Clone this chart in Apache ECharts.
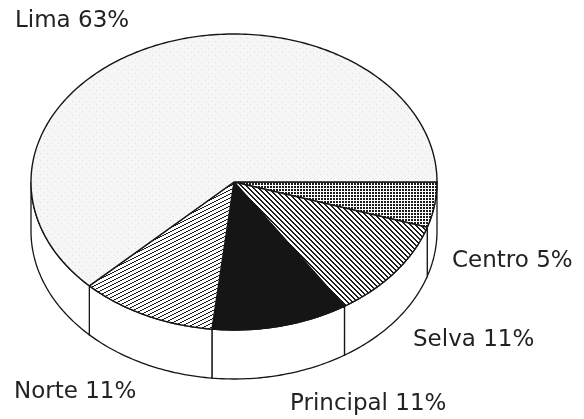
<!DOCTYPE html>
<html>
<head>
<meta charset="utf-8">
<script src="https://cdn.jsdelivr.net/npm/echarts@6/dist/echarts.min.js"></script>
<style>
  html, body { margin: 0; background: #fff; }
  #chart { width: 584px; height: 419px; }
</style>
</head>
<body>
<div id="chart"></div>
<script>
// slices, clockwise from 3 o'clock
var regions = ["Centro", "Selva", "Principal", "Norte", "Lima"];
var shares = [5, 11, 11, 11, 63];

// label anchors (left, vertical middle) in px
var labelPos = [[452, 261], [413, 340], [290, 404], [14, 392], [15, 21]];

var total = shares.reduce(function (a, b) { return a + b; }, 0);
var starts = [];
var acc = 0;
shares.forEach(function (v) { starts.push(acc); acc += v; });

var depth = 49; // thickness of the disc, px

// small bitmap tiles for the hatchings
function makeTile(w, h, bg, fg, test) {
  var c = document.createElement("canvas");
  c.width = w;
  c.height = h;
  var ctx = c.getContext("2d");
  ctx.fillStyle = bg;
  ctx.fillRect(0, 0, w, h);
  ctx.fillStyle = fg;
  for (var x = 0; x < w; x++) {
    for (var y = 0; y < h; y++) {
      if (test(x, y)) ctx.fillRect(x, y, 1, 1);
    }
  }
  return { image: c, repeat: "repeat" };
}

var fills = [
  makeTile(3, 3, "#fff", "#1c1c1c", function (x, y) { return x < 2 && y < 2; }),
  makeTile(5, 5, "#fff", "#1c1c1c", function (x, y) { return ((x - y) % 5 + 5) % 5 < 2; }),
  "#151515",
  makeTile(8, 4, "#fff", "#1c1c1c", function (x, y) { return (x + 2 * y) % 8 < 2; }),
  makeTile(7, 7, "#f6f6f6", "#dedede", function (x, y) { return (x == 2 && y == 3) || (x == 5 && y == 6); })
];

function arc(api, a0, a1, dy) {
  var pts = [];
  var n = Math.max(2, Math.ceil(Math.abs(a1 - a0)) + 1);
  for (var i = 0; i < n; i++) {
    var t = (a0 + (a1 - a0) * i / (n - 1)) * Math.PI / 180;
    var p = api.coord([Math.cos(t), -Math.sin(t)]);
    pts.push([p[0], p[1] + dy]);
  }
  return pts;
}

var chart = echarts.init(document.getElementById("chart"));

chart.setOption({
  animation: false,
  backgroundColor: "#fff",
  grid: { left: 31, top: 34, width: 406, height: 296 },
  xAxis: { type: "value", min: -1, max: 1, show: false },
  yAxis: { type: "value", min: -1, max: 1, show: false },
  series: [
    {
      type: "custom",
      clip: false,
      silent: true,
      data: shares.map(function (v, i) { return [i, starts[i], v]; }),
      renderItem: function (params, api) {
        var i = params.dataIndex;
        var a0 = api.value(1) / total * 360;
        var a1 = (api.value(1) + api.value(2)) / total * 360;
        var children = [];
        // front wall
        if (a0 < 180 && a1 > 0) {
          var s = Math.max(a0, 0), e = Math.min(a1, 180);
          var pts = arc(api, s, e, 0).concat(arc(api, e, s, depth));
          children.push({
            type: "polygon",
            shape: { points: pts },
            style: { fill: "#fff", stroke: "#161616", lineWidth: 1.3 }
          });
        }
        var c = api.coord([0, 0]);
        children.push({
          type: "polygon",
          shape: { points: [c].concat(arc(api, a0, a1, 0)) },
          style: { fill: fills[i], stroke: "#161616", lineWidth: 1.4 }
        });
        return { type: "group", children: children };
      }
    }
  ],
  graphic: regions.map(function (r, i) {
    return {
      type: "text",
      x: labelPos[i][0],
      y: labelPos[i][1],
      silent: true,
      style: {
        text: r + " " + shares[i] + "%",
        font: '23px "DejaVu Sans"',
        fill: "#222",
        align: "left",
        verticalAlign: "middle"
      }
    };
  })
});
</script>
</body>
</html>
